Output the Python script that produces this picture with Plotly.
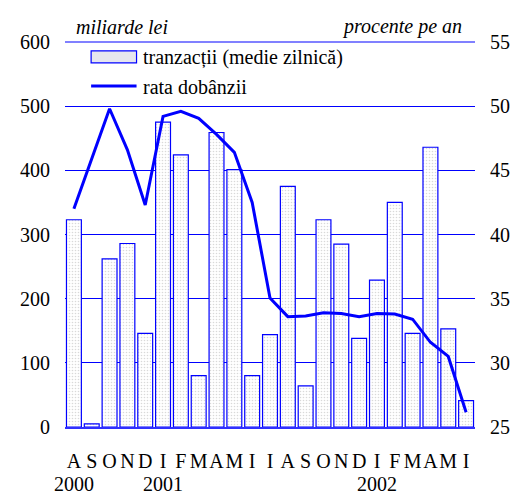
import plotly.graph_objects as go

months = ["A","S","O","N","D","I","F","M","A","M","I","I","A","S","O","N","D","I","F","M","A","M","I"]
years = ["2000", "2001", "2002"]
year_pos = [0, 5, 17]
tranzactii = [323, 5, 262, 286, 146, 475, 424, 80, 459, 401, 80, 144, 375, 64, 323, 285, 138, 229, 350, 146, 436, 153, 41]
rata = [42.0, 45.9, 49.8, 46.6, 42.3, 49.2, 49.6, 49.05, 47.8, 46.4, 42.5, 35.05, 33.6, 33.65, 33.9, 33.85, 33.6, 33.85, 33.8, 33.4, 31.6, 30.5, 26.15]

x = list(range(len(months)))
FONT = "Liberation Serif, Times New Roman, serif"
BLUE = "#0000ff"
FS = 20

fig = go.Figure()
fig.add_trace(go.Bar(
    x=x, y=tranzactii, name="tranzacții (medie zilnică)",
    marker=dict(color="white", line=dict(color=BLUE, width=1.2),
                pattern=dict(shape=".", fgcolor="#b4b4b4", bgcolor="white", size=3, solidity=0.22)),
    showlegend=False,
))
fig.add_trace(go.Scatter(
    x=x, y=rata, name="rata dobânzii", yaxis="y2", mode="lines",
    line=dict(color=BLUE, width=3), showlegend=False,
))

annotations = []
for yr, p in zip(years, year_pos):
    annotations.append(dict(x=p, y=-0.148, xref="x", yref="paper", text=yr, showarrow=False,
                            xanchor="center", yanchor="middle", font=dict(family=FONT, size=FS, color="black")))
annotations += [
    dict(x=0.021, y=1.039, xref="paper", yref="paper", text="<i>miliarde lei</i>", showarrow=False,
         xanchor="left", yanchor="middle", font=dict(family=FONT, size=FS, color="black")),
    dict(x=0.972, y=1.039, xref="paper", yref="paper", text="<i>procente pe an</i>", showarrow=False,
         xanchor="right", yanchor="middle", font=dict(family=FONT, size=FS, color="black")),
    dict(x=0.186, y=0.961, xref="paper", yref="paper", text="tranzacții (medie zilnică)", showarrow=False,
         xanchor="left", yanchor="middle", font=dict(family=FONT, size=FS, color="black")),
    dict(x=0.186, y=0.884, xref="paper", yref="paper", text="rata dobânzii", showarrow=False,
         xanchor="left", yanchor="middle", font=dict(family=FONT, size=FS, color="black")),
]

shapes = [
    dict(type="line", xref="paper", yref="paper", x0=0, x1=1, y0=1, y1=1,
         line=dict(color="#8080ff", width=2)),
    dict(type="rect", xref="paper", yref="paper", x0=0.0637, x1=0.1745, y0=0.946, y1=0.977,
         fillcolor="#e6e6ee", line=dict(color=BLUE, width=1.2)),
    dict(type="line", xref="paper", yref="paper", x0=0.0637, x1=0.1745, y0=0.886, y1=0.886,
         line=dict(color=BLUE, width=3)),
]

fig.update_layout(
    width=514, height=487,
    margin=dict(l=54, r=36, t=34, b=68),
    paper_bgcolor="white", plot_bgcolor="white",
    bargap=0.165,
    font=dict(family=FONT, size=FS, color="black"),
    xaxis=dict(tickmode="array", tickvals=x, ticktext=months, range=[-0.5, len(months) - 0.5],
               showgrid=False, zeroline=False, showline=True, mirror=False, linecolor="#3030ff", linewidth=2,
               ticks="", ticklabelstandoff=15, tickangle=0, tickfont=dict(family=FONT, size=FS)),
    yaxis=dict(range=[0, 600], dtick=100, showgrid=True, gridcolor=BLUE, gridwidth=1.2, zeroline=False,
               showline=False, ticks="", ticklabelstandoff=14, tickfont=dict(family=FONT, size=FS)),
    yaxis2=dict(range=[25, 55], dtick=5, overlaying="y", side="right", showgrid=False, zeroline=False,
                showline=False, ticks="", ticklabelstandoff=14, tickfont=dict(family=FONT, size=FS)),
    annotations=annotations, shapes=shapes,
)

fig.write_html("out.html")
